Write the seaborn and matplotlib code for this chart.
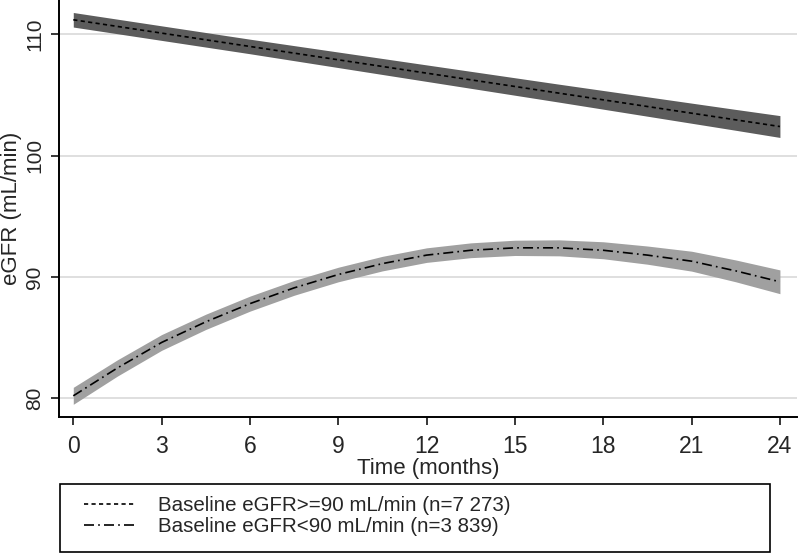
import numpy as np
import pandas as pd
import matplotlib
matplotlib.use("Agg")
import matplotlib.pyplot as plt
from matplotlib.lines import Line2D
from matplotlib.patches import Rectangle
import seaborn as sns

# ---- data ----
months = [0, 1.5, 3, 4.5, 6, 7.5, 9, 10.5, 12, 13.5, 15, 16.5, 18, 19.5, 21, 22.5, 24]
high_mean = [111.2, 110.65, 110.1, 109.55, 109.0, 108.45, 107.9, 107.35, 106.8,
             106.25, 105.7, 105.15, 104.6, 104.05, 103.5, 102.95, 102.4]
high_half = [0.6, 0.6, 0.6, 0.6, 0.6, 0.62, 0.64, 0.66, 0.68,
             0.7, 0.72, 0.74, 0.77, 0.8, 0.83, 0.86, 0.9]
low_mean = [80.2, 82.5, 84.6, 86.3, 87.8, 89.1, 90.2, 91.1, 91.8,
            92.2, 92.4, 92.4, 92.2, 91.8, 91.3, 90.5, 89.6]
low_half = [0.7, 0.67, 0.65, 0.63, 0.62, 0.61, 0.6, 0.6, 0.6,
            0.61, 0.63, 0.66, 0.7, 0.75, 0.82, 0.9, 0.98]
labels = ["Baseline eGFR>=90 mL/min (n=7 273)", "Baseline eGFR<90 mL/min (n=3 839)"]
xticks = [0, 3, 6, 9, 12, 15, 18, 21, 24]
yticks = [80, 90, 100, 110]

df = pd.DataFrame({
    "month": months * 2,
    "egfr": high_mean + low_mean,
    "half": high_half + low_half,
    "group": [labels[0]] * len(months) + [labels[1]] * len(months),
})
df["lo"] = df["egfr"] - df["half"]
df["hi"] = df["egfr"] + df["half"]

sns.set_theme(style="white")
plt.rcParams["font.family"] = ["Liberation Sans", "DejaVu Sans"]

fig = plt.figure(figsize=(8, 5.53), dpi=100)
ax = fig.add_axes([59.3 / 800, 1 - 416.7 / 553, (797 - 59.3) / 800, 416.7 / 553])

band_colors = ["#5c5c5c", "#a0a0a0"]
styles = [(0, (2.5, 2.0)), (0, (6, 2.5, 1, 2.5))]
for i, g in enumerate(labels):
    sub = df[df["group"] == g]
    ax.fill_between(sub["month"], sub["lo"], sub["hi"], color=band_colors[i], lw=0, zorder=2)

sns.lineplot(data=df, x="month", y="egfr", hue="group", style="group",
             palette=["black", "black"], dashes=[(2.5, 2.0), (6, 2.5, 1, 2.5)],
             linewidth=1.2, legend=False, ax=ax, zorder=3)

ax.set_xlim(-0.475, 24.58)
ax.set_ylim(78.48, 112.83)
ax.set_xticks(xticks)
ax.set_yticks(yticks)
ax.yaxis.grid(True, color="#dcdcdc", lw=1.3)
ax.xaxis.grid(False)
ax.set_axisbelow(True)
for s in ["top", "right"]:
    ax.spines[s].set_visible(False)
for s in ["left", "bottom"]:
    ax.spines[s].set_color("black")
    ax.spines[s].set_linewidth(1.4)
ax.tick_params(axis="both", which="major", direction="out", length=6, width=1.1,
               color="black", bottom=True, left=True)
ax.tick_params(axis="x", pad=7, labelsize=16.5)
ax.tick_params(axis="y", pad=5, labelsize=15)
for t in ax.get_yticklabels():
    t.set_rotation(90)
    t.set_va("center")
ax.set_xlabel("Time (months)", fontsize=16, labelpad=0)
ax.set_ylabel("eGFR (mL/min)", fontsize=16, va="center", ha="center")
ax.yaxis.set_label_coords((12 - 59.3) / 737.7, 0.5)

# legend box below the plot
fig.patches.append(Rectangle((60 / 800, 1 - 552 / 553), 710 / 800, 68 / 553,
                             transform=fig.transFigure, fill=False, ec="black", lw=1.2))
handles = [Line2D([], [], color="black", lw=1.2, linestyle=styles[0]),
           Line2D([], [], color="black", lw=1.2, linestyle=styles[1])]
fig.legend(handles, labels, loc="center left", bbox_to_anchor=(74 / 800, 1 - 516 / 553),
           frameon=False, fontsize=14.8, handlelength=2.4, handletextpad=1.2,
           labelspacing=0.1, borderpad=0)

fig.savefig("out.png", dpi=100)
